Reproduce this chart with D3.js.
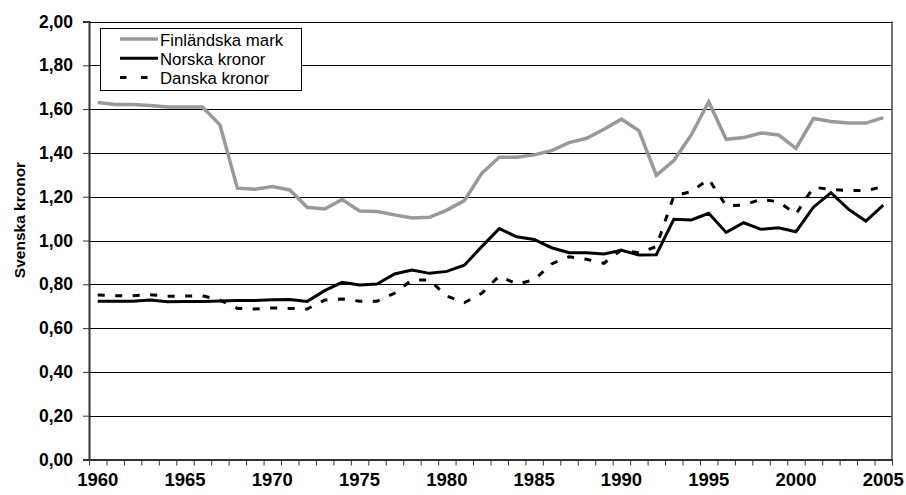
<!DOCTYPE html>
<html>
<head>
  <meta charset="utf-8">
  <title>Svenska kronor</title>
  <script src="https://d3js.org/d3.v7.min.js"></script>
  <style>
    body { margin: 0; background: #fff; }
    text { font-family: "Liberation Sans", Arial, sans-serif; }
  </style>
</head>
<body>
  <div id="chart"></div>
  <script>
    // Years on the category axis
    const years = d3.range(1960, 2006);

    // Values (SEK per unit)
    const finlandskaMark = [
      1.630, 1.621, 1.621, 1.616, 1.610, 1.610, 1.610, 1.528, 1.239, 1.234,
      1.246, 1.231, 1.152, 1.144, 1.187, 1.135, 1.132, 1.117, 1.103, 1.106,
      1.139, 1.182, 1.307, 1.380, 1.380, 1.391, 1.410, 1.447, 1.467, 1.508,
      1.554, 1.502, 1.298, 1.365, 1.482, 1.634, 1.462, 1.470, 1.491, 1.482,
      1.421, 1.557, 1.543, 1.536, 1.536, 1.561
    ];
    const norskaKronor = [
      0.723, 0.723, 0.723, 0.728, 0.720, 0.722, 0.722, 0.724, 0.726, 0.726,
      0.729, 0.731, 0.722, 0.771, 0.809, 0.797, 0.801, 0.847, 0.865, 0.850,
      0.859, 0.887, 0.972, 1.054, 1.017, 1.005, 0.967, 0.944, 0.944, 0.938,
      0.955, 0.934, 0.935, 1.097, 1.094, 1.124, 1.037, 1.081, 1.051, 1.058,
      1.040, 1.152, 1.218, 1.143, 1.089, 1.162
    ];
    const danskaKronor = [
      0.751, 0.748, 0.748, 0.752, 0.746, 0.746, 0.748, 0.728, 0.690, 0.687,
      0.692, 0.690, 0.687, 0.728, 0.733, 0.723, 0.723, 0.759, 0.820, 0.820,
      0.746, 0.716, 0.759, 0.838, 0.801, 0.820, 0.893, 0.926, 0.914, 0.896,
      0.957, 0.944, 0.972, 1.203, 1.223, 1.280, 1.158, 1.162, 1.188, 1.177,
      1.121, 1.243, 1.234, 1.228, 1.228, 1.246
    ];

    const yTicks = [0, 0.2, 0.4, 0.6, 0.8, 1.0, 1.2, 1.4, 1.6, 1.8, 2.0];
    const yearLabels = [1960, 1965, 1970, 1975, 1980, 1985, 1990, 1995, 2000, 2005];

    const series = [
      { name: "Finländska mark", values: finlandskaMark, color: "#999999", width: 3.5, dash: null },
      { name: "Norska kronor", values: norskaKronor, color: "#000000", width: 3, dash: null },
      { name: "Danska kronor", values: danskaKronor, color: "#000000", width: 3, dash: "7,10.5" }
    ];

    const width = 906;
    const height = 495;
    const plotLeft = 89, plotRight = 892, plotTop = 21.5, plotBottom = 459.5;

    const svg = d3.select("#chart")
      .append("svg")
      .attr("width", width)
      .attr("height", height);

    // Category positions (points sit in the middle of each year band)
    const x = d3.scaleBand()
      .domain(years)
      .range([plotLeft, plotRight])
      .padding(0);

    // Edge scale for tick marks between categories
    const xEdge = d3.scaleLinear()
      .domain([1959.5, 2005.5])
      .range([plotLeft, plotRight]);

    const y = d3.scaleLinear()
      .domain([0, 2])
      .range([plotBottom, plotTop]);

    const sv = d3.formatLocale({ decimal: ",", thousands: " ", grouping: [3], currency: ["", " kr"] });
    const fmt = sv.format(".2f");

    // Horizontal grid lines
    svg.append("g")
      .selectAll("line")
      .data(yTicks.slice(1))
      .enter()
      .append("line")
      .attr("x1", plotLeft)
      .attr("x2", plotRight)
      .attr("y1", d => Math.round(y(d)) + 0.5)
      .attr("y2", d => Math.round(y(d)) + 0.5)
      .attr("stroke", "#000")
      .attr("stroke-width", 1);

    // Right border of the plot area
    svg.append("line")
      .attr("x1", plotRight).attr("x2", plotRight)
      .attr("y1", y(2)).attr("y2", plotBottom)
      .attr("stroke", "#444")
      .attr("stroke-width", 1.5);

    // Y axis
    const yAxis = svg.append("g")
      .attr("transform", `translate(${plotLeft},0)`)
      .call(d3.axisLeft(y).tickValues(yTicks).tickFormat(fmt).tickSize(6).tickPadding(10));
    yAxis.select(".domain").attr("stroke", "#333").attr("stroke-width", 2);
    yAxis.selectAll(".tick line").attr("stroke", "#333");
    yAxis.selectAll("text")
      .style("font-size", "17.5px")
      .style("font-weight", "bold")
      .attr("fill", "#000");

    // X axis: tick marks between the years
    const xTickAxis = svg.append("g")
      .attr("transform", `translate(0,${plotBottom})`)
      .call(d3.axisBottom(xEdge)
        .tickValues(d3.range(1959.5, 2006, 1))
        .tickFormat("")
        .tickSize(6)
        .tickSizeOuter(0));
    xTickAxis.select(".domain").attr("stroke", "#333").attr("stroke-width", 2);
    xTickAxis.selectAll(".tick line").attr("stroke", "#333");

    // X axis: year labels every five years
    const xLabelAxis = svg.append("g")
      .attr("transform", `translate(0,${plotBottom})`)
      .call(d3.axisBottom(x)
        .tickValues(yearLabels)
        .tickSize(0)
        .tickPadding(13));
    xLabelAxis.select(".domain").remove();
    xLabelAxis.selectAll("text")
      .style("font-size", "18.5px")
      .style("font-weight", "bold")
      .attr("fill", "#000");

    // Y axis title
    svg.append("text")
      .attr("transform", `translate(25,${220}) rotate(-90)`)
      .attr("text-anchor", "middle")
      .style("font-size", "15.5px")
      .style("font-weight", "bold")
      .text("Svenska kronor");

    // Lines
    const line = d3.line()
      .x((d, i) => x(years[i]) + x.bandwidth() / 2)
      .y(d => y(d));

    series.forEach(s => {
      svg.append("path")
        .datum(s.values)
        .attr("fill", "none")
        .attr("stroke", s.color)
        .attr("stroke-width", s.width)
        .attr("stroke-linejoin", "miter")
        .attr("stroke-dasharray", s.dash)
        .attr("d", line);
    });

    // Legend
    const legend = svg.append("g");
    legend.append("rect")
      .attr("x", 100.5)
      .attr("y", 28.5)
      .attr("width", 201)
      .attr("height", 62)
      .attr("fill", "#fff")
      .attr("stroke", "#000")
      .attr("stroke-width", 1);

    series.forEach((s, i) => {
      const ly = 39 + i * 19.2;
      legend.append("line")
        .attr("x1", 120)
        .attr("x2", 158)
        .attr("y1", ly)
        .attr("y2", ly)
        .attr("stroke", s.color)
        .attr("stroke-width", s.width)
        .attr("stroke-dasharray", s.dash ? "6.5,14.5" : null);
      legend.append("text")
        .attr("x", 160)
        .attr("y", ly + 6.5)
        .style("font-size", "16.8px")
        .text(s.name);
    });
  </script>
</body>
</html>
